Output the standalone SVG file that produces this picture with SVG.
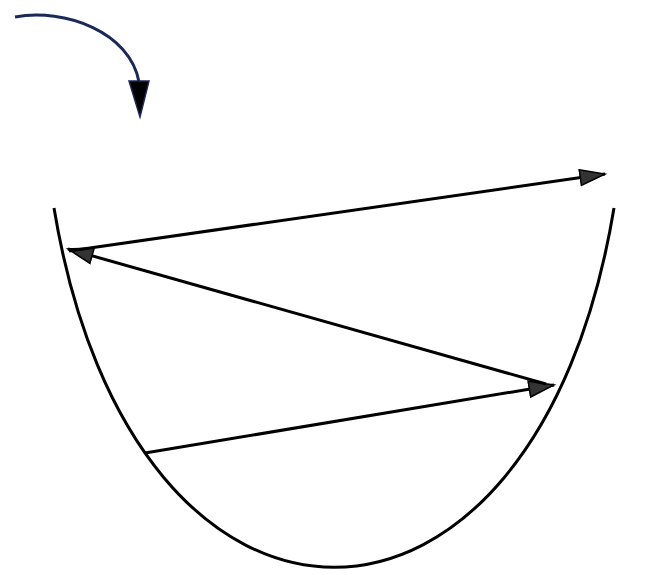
<svg xmlns="http://www.w3.org/2000/svg" width="667" height="575" viewBox="0 0 667 575">
  <style>
    .ray { fill: none; stroke: #000; stroke-width: 3; marker-end: url(#ah); }
    .mirror { fill: none; stroke: #000; stroke-width: 3; }
  </style>
  <defs>
    <marker id="ah" markerUnits="userSpaceOnUse" markerWidth="30" markerHeight="20" refX="26" refY="9" orient="auto">
      <path d="M1,1 L26,9 L1,17 Z" fill="#333" stroke="#000" stroke-width="1.5"/>
    </marker>
  </defs>
  <rect width="667" height="575" fill="#fff"/>
  <g id="mirror">
    <path class="mirror" d="M54,208 C133,687 535,687 614,208"/>
  </g>
  <g id="incoming">
    <path d="M15,17 C65,8 130,32 139,82" fill="none" stroke="#1b2a55" stroke-width="3"/>
    <path d="M129,81 L149,81 L140,117 Z" fill="#000" stroke="#1b2a55" stroke-width="1.5"/>
  </g>
  <g id="connectors">
    <line class="ray" x1="145" y1="453" x2="554" y2="385"/>
    <line class="ray" x1="546" y1="384" x2="68" y2="249"/>
    <line class="ray" x1="69" y1="251" x2="605" y2="174"/>
  </g>
</svg>
